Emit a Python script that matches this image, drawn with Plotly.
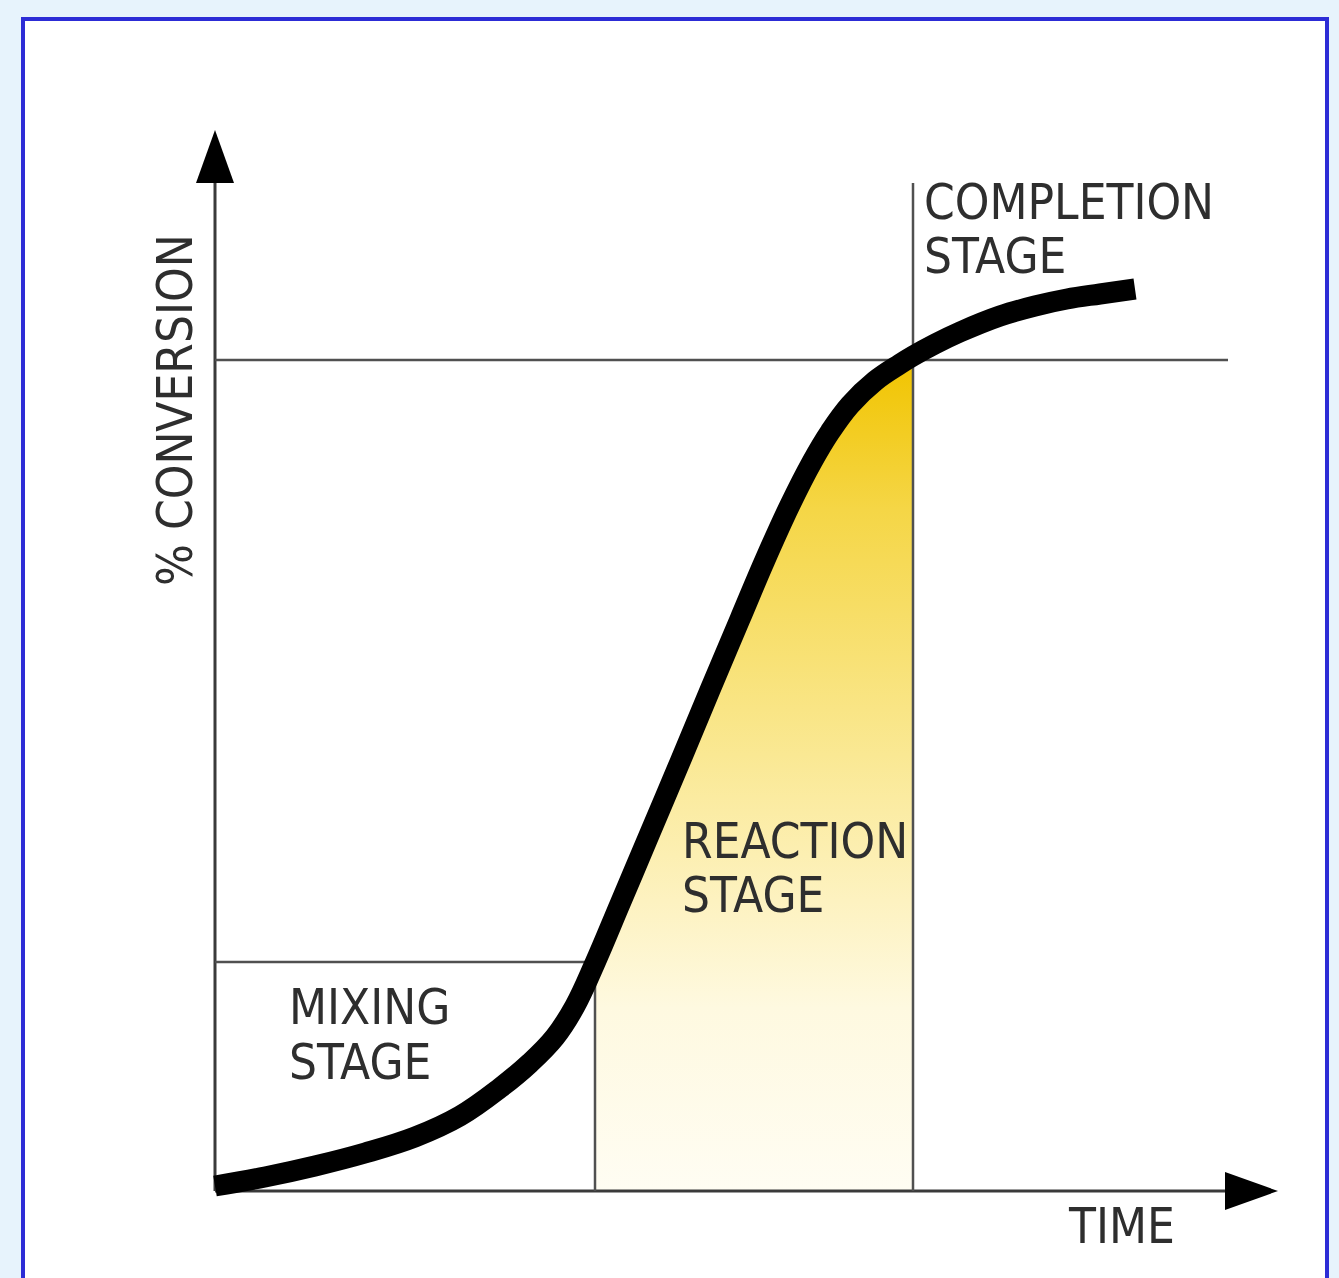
import plotly.graph_objects as go

# ---------------- data ----------------
TIME = [0.0, 5.0, 10.0, 15.0, 20.0, 24.5, 28.5, 31.5, 34.0, 36.0, 38.0,
        40.5, 43.5, 46.5, 49.5, 52.5, 55.0, 57.5, 59.7, 61.5, 63.5, 66.0,
        68.5, 69.8, 72.0, 74.5, 78.5, 82.0, 85.2, 88.5, 92.0]
CONVERSION = [0.5, 1.4, 2.5, 3.8, 5.4, 7.5, 10.3, 12.8, 15.4, 18.5, 22.8,
              28.7, 35.8, 42.9, 50.1, 57.2, 63.1, 68.6, 72.9, 75.9, 78.6, 81.0,
              82.7, 83.5, 84.7, 85.9, 87.5, 88.5, 89.2, 89.7, 90.2]

MIX_END_T = 38.0       # end of mixing stage (time)
REACT_END_T = 69.8     # end of reaction stage (time)
MIX_CONV = 22.9        # conversion level at end of mixing stage
REACT_CONV = 83.1      # conversion level at end of reaction stage

STAGE_LABELS = [("COMPLETION", 70.7, 98.95), ("STAGE", 70.7, 93.55),
                ("REACTION", 46.5, 35.0), ("STAGE", 46.5, 29.6),
                ("MIXING", 7.2, 18.45), ("STAGE", 7.2, 12.95)]
X_LABEL = "TIME"
Y_LABEL = "% CONVERSION"

# ---------------- layout geometry ----------------
W, H = 1339, 1278
X_RANGE = [-4.0, 108.0]
Y_RANGE = [-4.0, 108.0]
X_TIP, Y_TIP = 106.3, 106.1          # arrow tips of the drawn axes
X_ARROW_BASE, Y_ARROW_BASE = 101.0, 100.8
ARROW_HALF = 1.9
L, R, T, B = 175, 44, 111, 47
PW, PH = W - L - R, H - T - B

def pxx(px):
    return (px - L) / PW

def pxy(py):
    return (H - B - py) / PH

FONT = "DejaVu Sans Condensed, Liberation Sans Narrow, Arial Narrow, sans-serif"
FSIZE = 49
TXT = "#2e2e2e"
LINE_GREY = "#505050"
SMOOTH = 1.1

fig = go.Figure()

# gradient-filled reaction-stage area under the curve
seg = [i for i, t in enumerate(TIME) if MIX_END_T <= t <= REACT_END_T]
fig.add_trace(go.Scatter(
    x=[TIME[i] for i in seg], y=[CONVERSION[i] for i in seg],
    mode="lines", line=dict(width=0, shape="spline", smoothing=SMOOTH),
    fill="tozeroy",
    fillgradient=dict(type="vertical", start=0, stop=REACT_CONV,
                      colorscale=[[0.0, "#fffdf3"], [0.22, "#fef9e0"],
                                  [0.35, "#fdf2c0"], [0.58, "#f9e585"],
                                  [0.82, "#f5d646"], [1.0, "#f1c400"]]),
    hoverinfo="skip", showlegend=False))

def ref_line(xs, ys, color=LINE_GREY, width=2.5):
    fig.add_trace(go.Scatter(x=xs, y=ys, mode="lines",
                             line=dict(color=color, width=width),
                             hoverinfo="skip", showlegend=False))

# axes
ref_line([0, X_ARROW_BASE], [0, 0], "#3a3a3a", 3)
ref_line([0, 0], [0, Y_ARROW_BASE], "#3a3a3a", 3)
# stage boundaries
ref_line([0, 101.3], [REACT_CONV, REACT_CONV])
ref_line([REACT_END_T, REACT_END_T], [0, Y_ARROW_BASE])
ref_line([0, MIX_END_T], [MIX_CONV, MIX_CONV])
ref_line([MIX_END_T, MIX_END_T], [0, CONVERSION[TIME.index(MIX_END_T)]])

# conversion curve
fig.add_trace(go.Scatter(x=TIME, y=CONVERSION, mode="lines",
                         line=dict(color="black", width=21, shape="spline", smoothing=SMOOTH),
                         hoverinfo="skip", showlegend=False))

shapes = [
    # white panel with blue border
    dict(type="rect", xref="paper", yref="paper", layer="below",
         x0=pxx(23), x1=pxx(1327), y0=pxy(1300), y1=pxy(19),
         fillcolor="white", line=dict(color="#2c2cd6", width=4)),
    # arrow heads
    dict(type="path", xref="x", yref="y", layer="above",
         path=f"M {-ARROW_HALF},{Y_ARROW_BASE} L {ARROW_HALF},{Y_ARROW_BASE} L 0,{Y_TIP} Z",
         fillcolor="black", line=dict(width=0)),
    dict(type="path", xref="x", yref="y", layer="above",
         path=f"M {X_ARROW_BASE},{-ARROW_HALF} L {X_ARROW_BASE},{ARROW_HALF} L {X_TIP},0 Z",
         fillcolor="black", line=dict(width=0)),
]

annotations = []
for text, x, y in STAGE_LABELS:
    annotations.append(dict(text=text, x=x, y=y, xref="x", yref="y",
                            xanchor="left", yanchor="middle", showarrow=False,
                            height=48, valign="middle",
                            font=dict(family=FONT, size=FSIZE, color=TXT)))
annotations.append(dict(text=X_LABEL, x=pxx(1066), y=pxy(1226.5), xref="paper", yref="paper",
                        xanchor="left", yanchor="middle", showarrow=False,
                        font=dict(family=FONT, size=FSIZE, color=TXT)))
annotations.append(dict(text=Y_LABEL, x=pxx(175), y=pxy(410), xref="paper", yref="paper",
                        xanchor="center", yanchor="middle", textangle=-90, showarrow=False,
                        font=dict(family=FONT, size=FSIZE, color=TXT)))

fig.update_layout(
    width=W, height=H,
    margin=dict(l=L, r=R, t=T, b=B, pad=0),
    paper_bgcolor="#e7f3fc", plot_bgcolor="rgba(0,0,0,0)",
    shapes=shapes, annotations=annotations,
    xaxis=dict(range=X_RANGE, visible=False, fixedrange=True),
    yaxis=dict(range=Y_RANGE, visible=False, fixedrange=True),
)

fig.write_html(
    "out.html",
    config={"displayModeBar": False},
    post_script="document.body.style.margin='0';document.body.style.overflow='hidden';"
                "document.body.style.background='#e7f3fc';",
)
